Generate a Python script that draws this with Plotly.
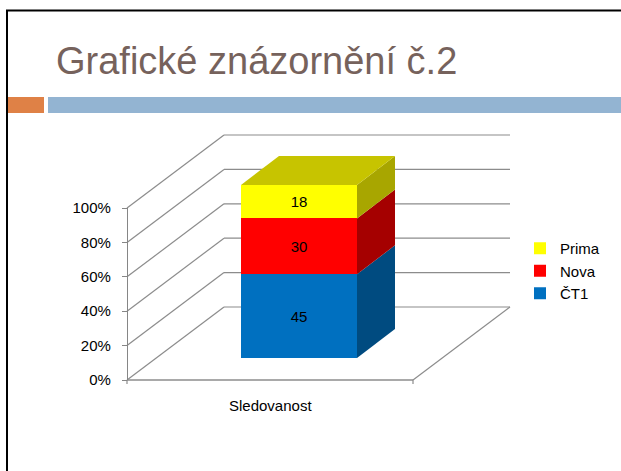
import plotly.graph_objects as go

# ---------------- data ----------------
categories = ["Sledovanost"]
series_names = ["ČT1", "Nova", "Prima"]
ct1_values = [45]
nova_values = [30]
prima_values = [18]
y_tick_values = [0, 20, 40, 60, 80, 100]
y_tick_labels = ["0%", "20%", "40%", "60%", "80%", "100%"]
title_text = "Grafické znázornění č.2"

# ---------------- style ----------------
front_colors = ["#0070C0", "#FF0000", "#FFFF00"]
side_colors = ["#004B80", "#A50000", "#A8A600"]
top_color = "#C7C400"
wall_color = "#8C8C8C"
FONT = "Liberation Sans, Arial, sans-serif"

W, H = 621, 471


def px(x):
    return x / W


def py(y):
    return 1 - y / H


# geometry in pixels
BAR_LEFT, BAR_RIGHT = 241, 357
BAR_ZERO_Y, BAR_FULL_Y = 358, 185
DEPTH_X, DEPTH_Y = 38, 29
FRONT_X, FRONT_ZERO_Y, FRONT_FULL_Y = 127, 380, 208
FLOOR_RIGHT_X = 413
WALL_DX, WALL_DY = 97, 73
BACK_RIGHT_X = 510

bar_width = 1.0
ux = (BAR_RIGHT - BAR_LEFT) / bar_width
center = (BAR_LEFT + BAR_RIGHT) / 2
x_range = [-center / ux, (W - center) / ux]
uy = (BAR_ZERO_Y - BAR_FULL_Y) / 100.0
y_range = [-(H - BAR_ZERO_Y) / uy, BAR_ZERO_Y / uy]
dxu = DEPTH_X / ux
dyu = DEPTH_Y / uy

x_pos = list(range(len(categories)))
series_values = [ct1_values, nova_values, prima_values]

fig = go.Figure()
for name, vals, col in zip(series_names, series_values, front_colors):
    fig.add_trace(go.Bar(
        x=x_pos, y=vals, name=name, width=bar_width,
        marker=dict(color=col, line=dict(width=0)),
        text=[str(v) for v in vals], textposition="inside",
        insidetextanchor="middle", textangle=0, constraintext="none",
        textfont=dict(size=15, color="black", family=FONT),
        hoverinfo="name+y",
    ))

# dummy trace to carry the front (3D) percentage axis
fig.add_trace(go.Scatter(x=[0], y=[0], xaxis="x2", yaxis="y2", mode="markers",
                         marker=dict(opacity=0), showlegend=False, hoverinfo="skip"))

shapes = []


def line(x0, y0, x1, y1, width=1.2, color=wall_color, layer="below"):
    shapes.append(dict(type="line", xref="paper", yref="paper",
                       x0=px(x0), y0=py(y0), x1=px(x1), y1=py(y1),
                       line=dict(color=color, width=width), layer=layer))


def front_y(v):
    return FRONT_ZERO_Y - v * (FRONT_ZERO_Y - FRONT_FULL_Y) / 100.0


# walls / gridlines
for v in y_tick_values:
    fy = front_y(v)
    line(FRONT_X, fy, FRONT_X + WALL_DX, fy - WALL_DY)
    line(FRONT_X + WALL_DX, fy - WALL_DY, BACK_RIGHT_X, fy - WALL_DY)
# floor
line(FRONT_X, FRONT_ZERO_Y, FLOOR_RIGHT_X, FRONT_ZERO_Y, width=1.5)
line(FLOOR_RIGHT_X, FRONT_ZERO_Y, BACK_RIGHT_X, FRONT_ZERO_Y - WALL_DY)
line(FRONT_X, FRONT_ZERO_Y, FRONT_X, FRONT_ZERO_Y + 4)
line(FLOOR_RIGHT_X, FRONT_ZERO_Y, FLOOR_RIGHT_X, FRONT_ZERO_Y + 4)

# 3D faces of the stacked bar
for i, xp in enumerate(x_pos):
    total = sum(s[i] for s in series_values)
    lo = 0.0
    xr = xp + bar_width / 2
    xl = xp - bar_width / 2
    for vals, sc in zip(series_values, side_colors):
        hi = lo + vals[i] / total * 100.0
        shapes.append(dict(
            type="path", xref="x", yref="y", layer="above",
            path=f"M {xr},{lo} L {xr + dxu},{lo + dyu} L {xr + dxu},{hi + dyu} L {xr},{hi} Z",
            fillcolor=sc, line=dict(width=0)))
        lo = hi
    shapes.append(dict(
        type="path", xref="x", yref="y", layer="above",
        path=f"M {xl},100 L {xl + dxu},{100 + dyu} L {xr + dxu},{100 + dyu} L {xr},100 Z",
        fillcolor=top_color, line=dict(width=0)))

# slide decoration
shapes.append(dict(type="rect", xref="paper", yref="paper", x0=px(7), x1=px(44), y0=py(113), y1=py(97),
                   fillcolor="#DF8146", line=dict(width=0), layer="above"))
shapes.append(dict(type="rect", xref="paper", yref="paper", x0=px(48), x1=px(W), y0=py(113), y1=py(97),
                   fillcolor="#93B4D2", line=dict(width=0), layer="above"))
line(7, 10.5, 7, H, width=2, color="black", layer="above")
line(6, 10.5, W, 10.5, width=2, color="black", layer="above")

annotations = [
    dict(text=title_text, xref="paper", yref="paper", x=px(54), y=py(61),
         xanchor="left", yanchor="middle", showarrow=False,
         font=dict(size=38, color="#76625C", family=FONT)),
    dict(text=categories[0], xref="paper", yref="paper", x=px((FRONT_X + FLOOR_RIGHT_X) / 2), y=py(405),
         xanchor="center", yanchor="middle", showarrow=False,
         font=dict(size=15, color="black", family=FONT)),
]

fig.update_layout(
    width=W, height=H, autosize=False,
    margin=dict(l=0, r=0, t=0, b=0, autoexpand=False),
    paper_bgcolor="white", plot_bgcolor="rgba(0,0,0,0)",
    barmode="stack", barnorm="percent",
    showlegend=True,
    legend=dict(x=px(520), y=py(271), xanchor="left", yanchor="middle",
                traceorder="reversed", font=dict(size=15, color="black", family=FONT),
                bgcolor="rgba(0,0,0,0)", itemwidth=30),
    xaxis=dict(domain=[0, 1], range=x_range, visible=False, fixedrange=True, automargin=False),
    yaxis=dict(domain=[0, 1], range=y_range, visible=False, fixedrange=True, automargin=False),
    xaxis2=dict(domain=[0, 1], range=[0, 1], visible=False, anchor="y2", automargin=False),
    yaxis2=dict(domain=[py(FRONT_ZERO_Y), py(FRONT_FULL_Y)], range=[0, 100], anchor="free",
                position=px(FRONT_X), side="left", tickvals=y_tick_values, ticktext=y_tick_labels,
                ticks="outside", ticklen=5, tickcolor="#868686", showline=True, linecolor="#868686",
                linewidth=1.2, showgrid=False, zeroline=False, ticklabelstandoff=8, automargin=False,
                tickfont=dict(size=15, color="black", family=FONT)),
    shapes=shapes,
    annotations=annotations,
)

post = "document.body.style.margin='0px';document.body.style.overflow='hidden';"

fig.write_html("out.html", post_script=post, config={"displayModeBar": False})
